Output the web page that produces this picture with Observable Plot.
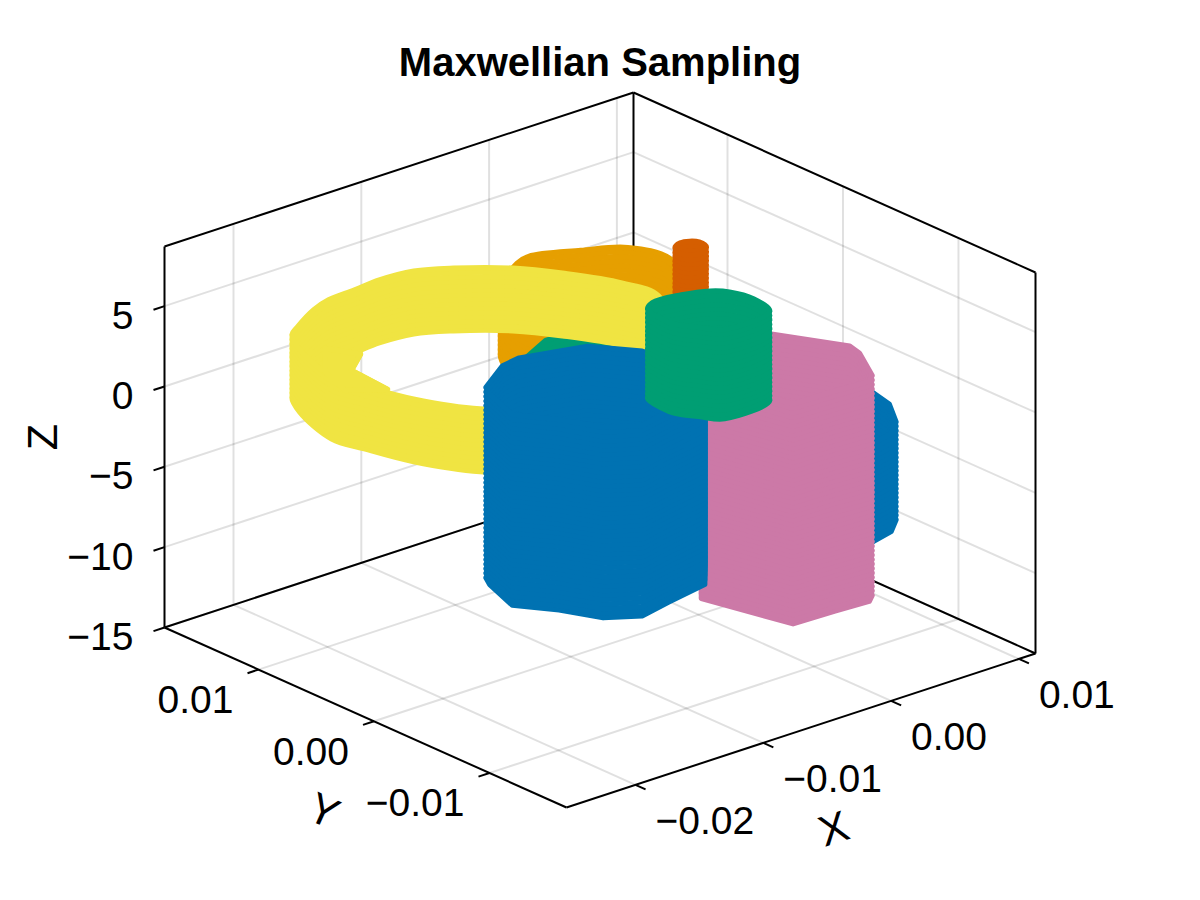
<!DOCTYPE html>
<html>
<head>
<meta charset="utf-8">
<script src="https://cdn.jsdelivr.net/npm/d3@7"></script>
<script src="https://cdn.jsdelivr.net/npm/@observablehq/plot@0.6"></script>
<style>
  html, body { margin: 0; padding: 0; background: #fff; }
  #title { height: 90px; text-align: center; font: bold 40px/124px "Liberation Sans", sans-serif; color: #000; }
  #chart svg { display: block; }
</style>
</head>
<body>
<div id="title">Maxwellian Sampling</div>
<div id="chart"></div>
<script>
// Axis limits and ticks
const xLimits = [-0.0254, 0.0113];
const yLimits = [-0.01667, 0.01814];
const zLimits = [-15, 8.71];
const xTicks = [-0.02, -0.01, 0, 0.01];
const yTicks = [-0.01, 0, 0.01];
const zTicks = [-15, -10, -5, 0, 5];
const xTickLabels = ["\u22120.02", "\u22120.01", "0.00", "0.01"];
const yTickLabels = ["\u22120.01", "0.00", "0.01"];
const zTickLabels = ["\u221215", "\u221210", "\u22125", "0", "5"];

// Trajectory bands: one orbit outline (X, Y) and the Z span it sweeps
const orangeX = [-0.01025, -0.00676, -0.00551, -0.0025, -0.00003, 0.00075, -0.00223, -0.00375, -0.00817, -0.01119, -0.01216, -0.01155];
const orangeY = [0.00598, 0.00837, 0.00872, 0.00745, 0.00602, 0.00307, -0.00264, -0.00431, -0.00402, -0.00215, 0.00154, 0.00394];
const orangeZ = [2, 5.97];

const vermillionX = [-0.00046, 0.00041, 0.0015, 0.00126, 0.00028, -0.00081];
const vermillionY = [0.00173, 0.00218, 0.00149, 0.00052, -0.00004, 0.00066];
const vermillionZ = [3, 7.37];

const greenBackX = [-0.00788, -0.00519, -0.00326, -0.0017, -0.00141, -0.00494, -0.01014];
const greenBackY = [0.00627, 0.0075, 0.00748, 0.0066, 0.00346, -0.00045, 0.00377];
const greenBackZ = [-1, 1];

const yellowX = [-0.02207, -0.02114, -0.01855, -0.01687, -0.01468, -0.01254, -0.01005, -0.00794, -0.00523, -0.00348, -0.00177, -0.00142, -0.00498, -0.01115, -0.01543, -0.02106, -0.02308, -0.02402, -0.0245, -0.02323];
const yellowY = [0.01092, 0.01152, 0.01291, 0.01348, 0.01363, 0.01384, 0.01357, 0.01243, 0.01023, 0.00784, 0.00454, 0.00172, -0.00351, -0.00817, -0.00858, -0.00441, -0.00083, 0.00245, 0.00477, 0.00896];
const yellowZ = [0.78, 4.67];

const yellowInnerX = [-0.02191, -0.02092, -0.02295, -0.02324, -0.02524, -0.02433];
const yellowInnerY = [0.00808, 0.00613, 0.00467, 0.00123, 0.00266, 0.0054];
const yellowInnerZ = [4.7, 4.7];

const blueBackX = [0.00804, 0.01033, 0.00989, 0.00838, 0.00695, 0.00493, 0.00057, -0.00163, -0.00007, 0.00291];
const blueBackY = [0.00006, -0.00373, -0.00569, -0.00796, -0.00911, -0.00961, -0.0082, -0.00371, -0.00051, 0.00131];
const blueBackZ = [-8.72, -2.63];

const pinkX = [-0.0002, 0.00142, 0.00468, 0.00727, 0.00801, 0.00974, 0.01, 0.00554];
const pinkY = [-0.00022, -0.00657, -0.00669, -0.00686, -0.0063, -0.00325, -0.00211, 0.00596];
const pinkZ = [-13.87, -0.19];

const blueFrontX = [-0.0078, -0.00833, -0.00941, -0.00774, -0.00651, -0.00451, -0.00188, 0.00162, 0.00404, 0.00316, 0.00114, -0.00323, -0.00481];
const blueFrontY = [0.00999, 0.00907, 0.00588, 0.00357, 0.00102, -0.00022, 0.00036, 0.00101, 0.00369, 0.00826, 0.01087, 0.0121, 0.01183];
const blueFrontZ = [-13.87, -2.03];

const greenFrontX = [-0.00154, -0.00187, -0.00183, -0.00097, -0.00004, 0.004, 0.00455, 0.00413, 0.00332, 0.00156, -0.00061];
const greenFrontY = [0.00289, 0.00122, 0.00022, -0.00124, -0.00239, -0.00198, 0.00009, 0.00179, 0.00263, 0.00328, 0.00349];
const greenFrontZ = [-2.07, 3.47];

const lineBlue = "#0072B2", lineOrange = "#E69F00", lineGreen = "#009E73", linePink = "#CC79A7",
      lineVermillion = "#D55E00", lineYellow = "#F0E442";

// Back to front; trim compensates for the stroke's outward spread
const smooth = "catmull-rom-closed", facets = "linear-closed";
const bands = [
  {xs: orangeX, ys: orangeY, zs: orangeZ, color: lineOrange, trim: 0.98, curve: smooth},
  {xs: vermillionX, ys: vermillionY, zs: vermillionZ, color: lineVermillion, trim: 0.87, curve: smooth},
  {xs: greenBackX, ys: greenBackY, zs: greenBackZ, color: lineGreen, trim: 1, curve: facets},
  {xs: yellowX, ys: yellowY, zs: yellowZ, color: lineYellow, trim: 0.99, curve: smooth},
  {xs: yellowInnerX, ys: yellowInnerY, zs: yellowInnerZ, color: lineYellow, trim: 1, curve: facets, sheet: true},
  {xs: blueBackX, ys: blueBackY, zs: blueBackZ, color: lineBlue, trim: 0.98, curve: facets},
  {xs: pinkX, ys: pinkY, zs: pinkZ, color: linePink, trim: 0.975, curve: facets},
  {xs: blueFrontX, ys: blueFrontY, zs: blueFrontZ, color: lineBlue, trim: 0.976, curve: facets},
  {xs: greenFrontX, ys: greenFrontY, zs: greenFrontZ, color: lineGreen, trim: 0.96, curve: smooth}
];

// Orthographic camera: how the box edges lie in the view plane
const camera = {xU: 469, yU: -402, xV: 154, yV: 180, zV: 381};
const frac = (value, [lo, hi]) => (value - lo) / (hi - lo);
const viewU = (X, Y) => frac(X, xLimits) * camera.xU + frac(Y, yLimits) * camera.yU;
const viewV = (X, Y, Z) => frac(X, xLimits) * camera.xV + frac(Y, yLimits) * camera.yV + frac(Z, zLimits) * camera.zV;
const pt = (X, Y, Z) => ({u: viewU(X, Y), v: viewV(X, Y, Z)});
const seg = (a, b) => ({x1: a.u, y1: a.v, x2: b.u, y2: b.v});

const [x0, x1] = xLimits, [y0, y1] = yLimits, [z0, z1] = zLimits;
const tickX = -0.00086, tickY = -0.00087;

const gridSegs = [
  ...xTicks.flatMap(X => [seg(pt(X, y1, z0), pt(X, y1, z1)), seg(pt(X, y0, z0), pt(X, y1, z0))]),
  ...yTicks.flatMap(Y => [seg(pt(x1, Y, z0), pt(x1, Y, z1)), seg(pt(x0, Y, z0), pt(x1, Y, z0))]),
  ...zTicks.flatMap(Z => [seg(pt(x0, y1, Z), pt(x1, y1, Z)), seg(pt(x1, y0, Z), pt(x1, y1, Z))])
];
const spineSegs = [
  seg(pt(x0, y0, z0), pt(x1, y0, z0)), seg(pt(x0, y0, z0), pt(x0, y1, z0)),
  seg(pt(x1, y0, z0), pt(x1, y1, z0)), seg(pt(x0, y1, z0), pt(x1, y1, z0)),
  seg(pt(x0, y1, z0), pt(x0, y1, z1)), seg(pt(x1, y0, z0), pt(x1, y0, z1)),
  seg(pt(x1, y1, z0), pt(x1, y1, z1)),
  seg(pt(x0, y1, z1), pt(x1, y1, z1)), seg(pt(x1, y0, z1), pt(x1, y1, z1))
];
const tickSegs = [
  ...xTicks.map(X => seg(pt(X, y0, z0), pt(X, y0 + tickY, z0))),
  ...yTicks.map(Y => seg(pt(x0, Y, z0), pt(x0 + tickX, Y, z0))),
  ...zTicks.map(Z => seg(pt(x0, y1, Z), pt(x0 + tickX, y1, Z)))
];

const xLabelRows = xTicks.map((X, i) => ({...pt(X, y0, z0), label: xTickLabels[i]}));
const yLabelRows = yTicks.map((Y, i) => ({...pt(x0, Y, z0), label: yTickLabels[i]}));
const zLabelRows = zTicks.map((Z, i) => ({...pt(x0, y1, Z), label: zTickLabels[i]}));

const font = "Liberation Sans";
const fontSize = 39;
const titleSize = 43;

// A band is its orbit outline repeated at stacked heights
const turnStep = 0.28;
const bandMarks = bands.map(({xs, ys, zs, color, trim, curve, sheet}) => {
  const n = Math.max(1, Math.round((zs[1] - zs[0]) / turnStep));
  const midX = d3.mean(xs), midY = d3.mean(ys);
  const rows = [];
  for (let k = 0; k <= n; k++) {
    const Z = zs[0] + (zs[1] - zs[0]) * k / n;
    xs.forEach((X, i) => rows.push({...pt(midX + (X - midX) * trim, midY + (ys[i] - midY) * trim, Z), turn: k}));
  }
  return Plot.line(rows, {x: "u", y: "v", z: "turn", stroke: color, fill: sheet ? color : "none", strokeWidth: 5.4, curve, strokeLinejoin: "round"});
});

const chart = Plot.plot({
  width: 1200,
  height: 810,
  margin: 0,
  style: {background: "#fff", overflow: "visible"},
  x: {domain: [-566, 634], range: [0, 1200], axis: null},
  y: {domain: [717, -93], range: [0, 810], axis: null},
  marks: [
    Plot.link(gridSegs, {x1: "x1", y1: "y1", x2: "x2", y2: "y2", stroke: "#000", strokeOpacity: 0.12, strokeWidth: 2}),
    Plot.link(spineSegs, {x1: "x1", y1: "y1", x2: "x2", y2: "y2", stroke: "#000", strokeWidth: 2}),
    Plot.link(tickSegs, {x1: "x1", y1: "y1", x2: "x2", y2: "y2", stroke: "#000", strokeWidth: 2}),
    ...bandMarks,
    Plot.text(xLabelRows, {x: "u", y: "v", text: "label", dx: 20, dy: 37, textAnchor: "start", fontFamily: font, fontSize}),
    Plot.text(yLabelRows, {x: "u", y: "v", text: "label", dx: -25, dy: 31, textAnchor: "end", fontFamily: font, fontSize}),
    Plot.text(zLabelRows, {x: "u", y: "v", text: "label", dx: -31, dy: 10, textAnchor: "end", fontFamily: font, fontSize}),
    Plot.text([pt((x0 + x1) / 2, y0, z0)], {x: "u", y: "v", text: () => "X", dx: 33, dy: 99, rotate: -18, fontFamily: font, fontSize: titleSize}),
    Plot.text([pt(x0, (y0 + y1) / 2, z0)], {x: "u", y: "v", text: () => "Y", dx: -42, dy: 94, rotate: 24, fontFamily: font, fontSize: titleSize}),
    Plot.text([pt(x0, y1, (z0 + z1) / 2)], {x: "u", y: "v", text: () => "Z", dx: -121, dy: 0, rotate: -90, fontFamily: font, fontSize: titleSize})
  ]
});
document.getElementById("chart").appendChild(chart);
</script>
</body>
</html>
